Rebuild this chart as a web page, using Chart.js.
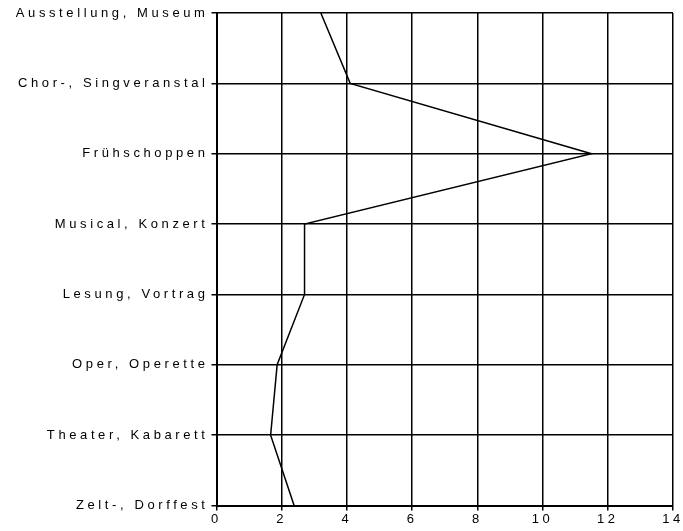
<!DOCTYPE html>
<html>
<head>
<meta charset="utf-8">
<script src="https://cdn.jsdelivr.net/npm/chart.js@4"></script>
<style>
  html, body { margin: 0; padding: 0; background: #fff; }
  #wrap { width: 683px; height: 531px; }
</style>
</head>
<body>
<div id="wrap"><canvas id="myChart" width="683" height="531"></canvas></div>
<script>
// categories from top to bottom
const categories = [
    'Ausstellung, Museum',
    'Chor-, Singveranstal',
    'Frühschoppen',
    'Musical, Konzert',
    'Lesung, Vortrag',
    'Oper, Operette',
    'Theater, Kabarett',
    'Zelt-, Dorffest'
];
const values = [3.2, 4.1, 11.5, 2.7, 2.7, 1.86, 1.66, 2.38];
const xTicks = [0, 2, 4, 6, 8, 10, 12, 14];

// spaced-out lettering like the original
const spacing = {
    id: 'spacing',
    beforeDraw(chart) { chart.ctx.letterSpacing = '3.6px'; }
};

const ctx = document.getElementById('myChart').getContext('2d');
const chart = new Chart(ctx, {
    type: 'line',
    data: {
        labels: categories,
        datasets: [{
            data: values,
            borderColor: '#000',
            borderWidth: 1.5,
            pointRadius: 0,
            fill: false,
            tension: 0
        }]
    },
    options: {
        indexAxis: 'y',
        responsive: false,
        animation: false,
        events: [],
        layout: { padding: { left: 0, right: 10, top: 13, bottom: 0 } },
        plugins: { legend: { display: false }, tooltip: { enabled: false } },
        scales: {
            y: {
                type: 'category',
                offset: false,
                grid: { color: '#000', lineWidth: 1.5, tickLength: 5 },
                border: { color: '#000', width: 2 },
                ticks: {
                    color: '#000',
                    padding: 3,
                    font: { family: 'Liberation Sans, Arial', size: 13 }
                },
                afterFit(scale) { scale.width = 216.5; }
            },
            x: {
                type: 'linear',
                min: 0,
                max: 14,
                afterBuildTicks(scale) { scale.ticks = xTicks.map(v => ({ value: v })); },
                grid: { color: '#000', lineWidth: 1.5, tickLength: 5 },
                border: { color: '#000', width: 2 },
                ticks: {
                    color: '#000',
                    padding: 1,
                    maxRotation: 0,
                    font: { family: 'Liberation Sans, Arial', size: 13 }
                },
                afterFit(scale) { scale.height = 25.5; }
            }
        }
    },
    plugins: [spacing]
});
</script>
</body>
</html>
